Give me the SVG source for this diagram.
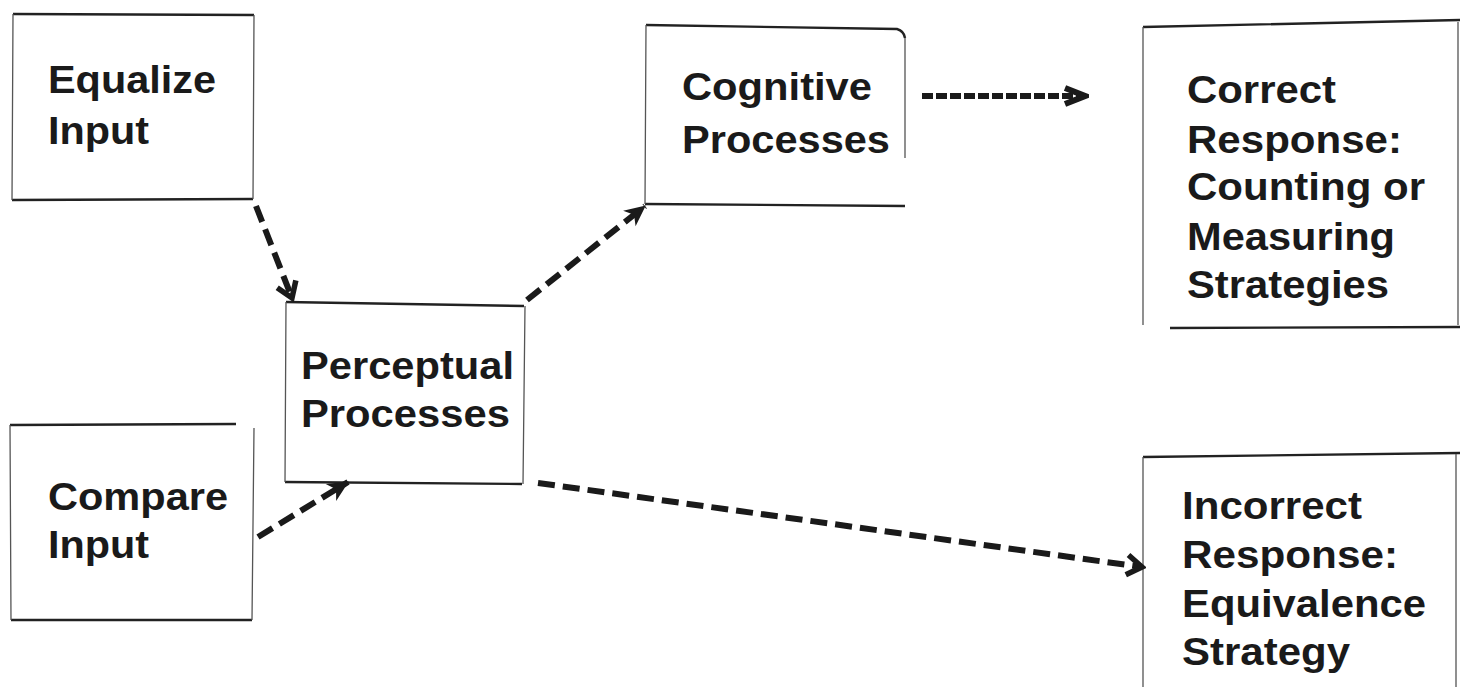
<svg xmlns="http://www.w3.org/2000/svg" width="1460" height="687" viewBox="0 0 1460 687">
<style>
.t{font-family:"Liberation Sans",Arial,Helvetica,sans-serif;font-weight:bold;font-size:38px;fill:#1a1a1a}
.h{stroke:#222;stroke-width:2.4;fill:none}
.v{stroke:#555;stroke-width:1.3;fill:none}
.c{fill:none;stroke:#1a1a1a;stroke-width:6;stroke-dasharray:17 8}
.c2{fill:none;stroke:#1a1a1a;stroke-width:6;stroke-dasharray:11 3}
</style>
<defs>
<marker id="chev" markerUnits="userSpaceOnUse" viewBox="-24 -14 28 28" refX="0" refY="0" markerWidth="28" markerHeight="28" orient="auto">
<path d="M-15 -10 L0 0 L-15 10" fill="none" stroke="#1a1a1a" stroke-width="5.5" stroke-linejoin="miter"/>
</marker>
<marker id="chev2" markerUnits="userSpaceOnUse" viewBox="-26 -16 30 32" refX="0" refY="0" markerWidth="30" markerHeight="32" orient="auto">
<path d="M-20 -8 L0 0 L-20 8" fill="none" stroke="#1a1a1a" stroke-width="6" stroke-linejoin="miter"/>
</marker>
<marker id="fill" markerUnits="userSpaceOnUse" viewBox="-24 -14 28 28" refX="0" refY="0" markerWidth="28" markerHeight="28" orient="auto">
<path d="M-20 -10 L1 0 L-20 10 L-14 0 Z" fill="#1a1a1a"/>
</marker>
</defs>
<rect width="1460" height="687" fill="#fff"/>
<g id="equalize">
<path class="h" d="M13 14 L254 15 M12 200 L253 199"/>
<path class="v" d="M13 14 L12 200 M254 15 L253 199"/>
<text class="t" x="48" y="93" textLength="168" lengthAdjust="spacingAndGlyphs">Equalize</text>
<text class="t" x="48" y="144" textLength="101" lengthAdjust="spacingAndGlyphs">Input</text>
</g>
<g id="compare">
<path class="h" d="M10 425 L236 424 M11 620 L252 620"/>
<path class="v" d="M10 425 L11 620 M254 428 L252 620"/>
<text class="t" x="48" y="510" textLength="180" lengthAdjust="spacingAndGlyphs">Compare</text>
<text class="t" x="48" y="558" textLength="101" lengthAdjust="spacingAndGlyphs">Input</text>
</g>
<g id="perceptual">
<path class="h" d="M286 302 L524 306 M285 482 L522 484"/>
<path class="v" d="M286 302 L285 482 M525 306 L523 484"/>
<text class="t" x="301" y="379" textLength="213" lengthAdjust="spacingAndGlyphs">Perceptual</text>
<text class="t" x="301" y="427" textLength="209" lengthAdjust="spacingAndGlyphs">Processes</text>
</g>
<g id="cognitive">
<path class="h" d="M646 25 L897 29 Q904 31 905 38 M645 204 L905 206"/>
<path class="v" d="M646 25 L645 204 M905 38 L905 158"/>
<text class="t" x="682" y="100" textLength="190" lengthAdjust="spacingAndGlyphs">Cognitive</text>
<text class="t" x="682" y="153" textLength="208" lengthAdjust="spacingAndGlyphs">Processes</text>
</g>
<g id="correct">
<path class="h" d="M1143 27 L1460 20 M1170 328 L1460 327"/>
<path class="v" d="M1143 27 L1143 325 M1458 22 L1458 325"/>
<text class="t" x="1187" y="103" textLength="149" lengthAdjust="spacingAndGlyphs">Correct</text>
<text class="t" x="1187" y="153" textLength="215" lengthAdjust="spacingAndGlyphs">Response:</text>
<text class="t" x="1187" y="200" textLength="238" lengthAdjust="spacingAndGlyphs">Counting or</text>
<text class="t" x="1187" y="250" textLength="208" lengthAdjust="spacingAndGlyphs">Measuring</text>
<text class="t" x="1187" y="298" textLength="202" lengthAdjust="spacingAndGlyphs">Strategies</text>
</g>
<g id="incorrect">
<path class="h" d="M1143 457 L1460 453"/>
<path class="v" d="M1143 457 L1143 687 M1456 454 L1456 687"/>
<text class="t" x="1182" y="519" textLength="180" lengthAdjust="spacingAndGlyphs">Incorrect</text>
<text class="t" x="1182" y="568" textLength="216" lengthAdjust="spacingAndGlyphs">Response:</text>
<text class="t" x="1182" y="617" textLength="244" lengthAdjust="spacingAndGlyphs">Equivalence</text>
<text class="t" x="1182" y="665" textLength="168" lengthAdjust="spacingAndGlyphs">Strategy</text>
</g>
<g id="connectors">
<path class="c" d="M256 206 L292 298" marker-end="url(#chev)"/>
<path class="c" d="M258 537 L348 482" marker-end="url(#fill)"/>
<path class="c" d="M527 300 L645 206" marker-end="url(#fill)"/>
<path class="c2" d="M922 96 L1085 96" marker-end="url(#chev2)"/>
<path class="c" d="M538 483 L1142 567" marker-end="url(#chev)"/>
</g>
</svg>
